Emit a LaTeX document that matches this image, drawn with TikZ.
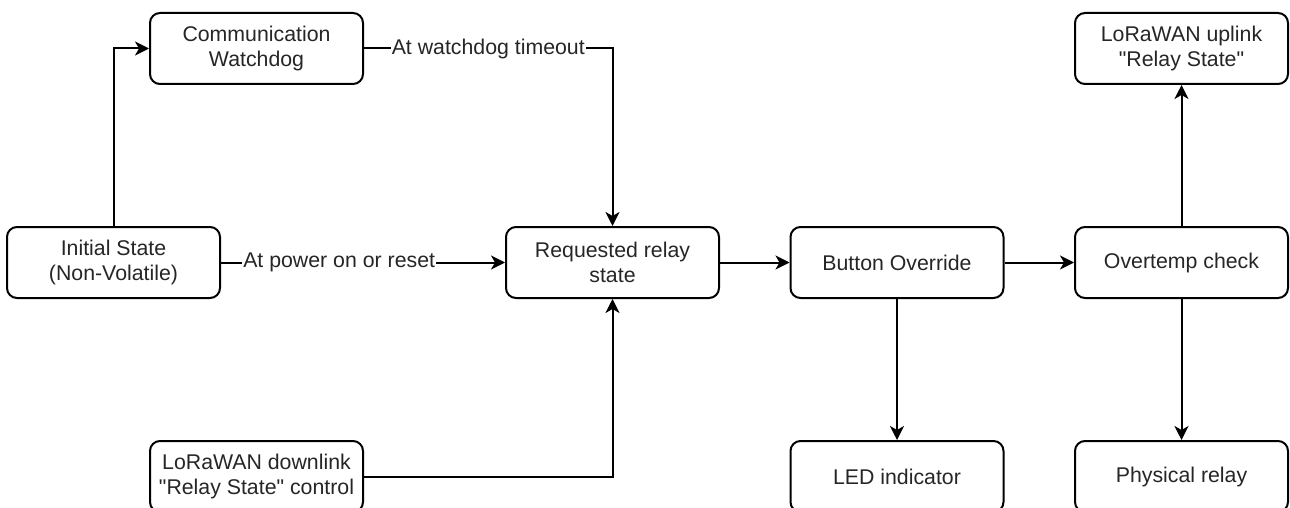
\documentclass[tikz,border=0pt]{standalone}
\usepackage{fontspec}
\setmainfont{Liberation Sans}[Ligatures=TeXOff]
\usetikzlibrary{arrows.meta}
\tikzset{
  stage/.style={draw=black, line width=2pt, rounded corners=10pt,
    minimum width=213pt, minimum height=71pt, align=center, inner sep=2pt,
    font=\fontsize{21.3}{25.6}\selectfont, text=black!85},
  flow/.style={line width=2pt, -{Stealth[length=14pt,width=14pt,inset=4pt]}},
  tag/.style={fill=white, inner sep=1pt, font=\fontsize{21.3}{25.6}\selectfont, text=black!85}
}
\begin{document}
\begin{tikzpicture}[x=1pt,y=-1pt]
  \useasboundingbox (0,0) rectangle (1290,508);
  \fill[white] (0,0) rectangle (1290,508);

  \node[stage] (wd)   at (256.5,48.5)  {Communication\\Watchdog};
  \node[stage] (init) at (113.5,262.5) {Initial State\\(Non-Volatile)};
  \node[stage] (req)  at (612.5,262.5) {Requested relay\\state};
  \node[stage] (btn)  at (897,262.5)   {Button Override};
  \node[stage] (ovt)  at (1181.5,262.5) {Overtemp check};
  \node[stage] (up)   at (1181.5,48.5) {LoRaWAN uplink\\"Relay State"};
  \node[stage] (led)  at (897,476.5)   {LED indicator};
  \node[stage] (phys) at (1181.5,476.5) {Physical relay};
  \node[stage] (down) at (256.5,476.5) {LoRaWAN downlink\\"Relay State" control};

  \draw[flow] (init.north) |- (wd.west);
  \draw[flow] (wd.east) -| node[tag, pos=0.25] {At watchdog timeout} (req.north);
  \draw[flow] (init.east) -- node[tag, pos=0.416] {At power on or reset} (req.west);
  \draw[flow] (down.east) -| (req.south);
  \draw[flow] (req.east) -- (btn.west);
  \draw[flow] (btn.east) -- (ovt.west);
  \draw[flow] (btn.south) -- (led.north);
  \draw[flow] (ovt.north) -- (up.south);
  \draw[flow] (ovt.south) -- (phys.north);
\end{tikzpicture}
\end{document}
